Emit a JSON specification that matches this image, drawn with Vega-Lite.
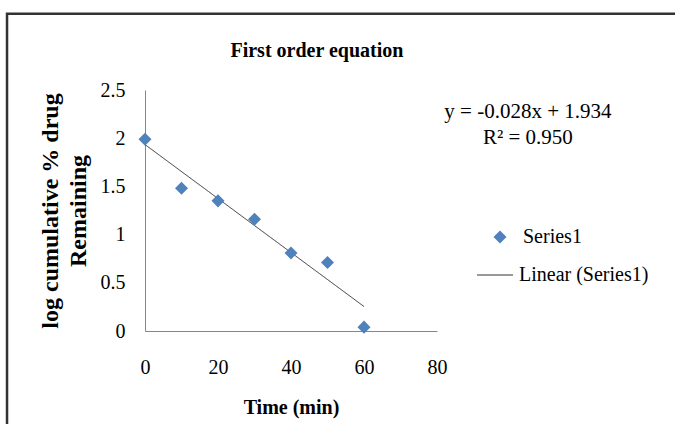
{
  "$schema": "https://vega.github.io/schema/vega-lite/v6.json",
  "autosize": {"type": "none"},
  "padding": {"left": 145, "top": 90, "right": 238, "bottom": 93},
  "width": 292,
  "height": 241,
  "background": "white",
  "config": {
    "view": {"stroke": null},
    "font": "Liberation Serif",
    "axis": {"domainColor": "#868686", "ticks": false, "grid": false, "labelFlush": false, "labelColor": "black", "labelFont": "Liberation Serif", "labelFontSize": 20, "titleFont": "Liberation Serif", "titleFontSize": 20, "titleFontWeight": "bold", "titleColor": "black"},
    "legend": {"labelFont": "Liberation Serif", "labelFontSize": 20, "labelColor": "black"}
  },
  "datasets": {
    "pts": [
      {"time": 0, "logr": 1.99, "series": "Series1"},
      {"time": 10, "logr": 1.48, "series": "Series1"},
      {"time": 20, "logr": 1.35, "series": "Series1"},
      {"time": 30, "logr": 1.16, "series": "Series1"},
      {"time": 40, "logr": 0.81, "series": "Series1"},
      {"time": 50, "logr": 0.71, "series": "Series1"},
      {"time": 60, "logr": 0.04, "series": "Series1"}
    ],
    "fit": [
      {"time": 0, "logr": 1.934, "series": "Linear (Series1)"},
      {"time": 60, "logr": 0.254, "series": "Linear (Series1)"}
    ]
  },
  "layer": [
    {
      "data": {"values": [{}]},
      "mark": {"type": "rect", "fill": null, "stroke": "#333333", "strokeWidth": 2.5},
      "encoding": {
        "x": {"datum": -37.8, "type": "quantitative", "scale": {"domain": [0, 80]}},
        "x2": {"datum": 160},
        "y": {"datum": 3.29, "type": "quantitative", "scale": {"domain": [0, 2.5]}},
        "y2": {"datum": -1.2}
      }
    },
    {
      "data": {"values": [{}]},
      "mark": {"type": "text", "font": "Liberation Serif", "fontSize": 20, "fontWeight": "bold", "color": "black", "align": "center", "baseline": "alphabetic"},
      "encoding": {
        "x": {"datum": 47.1, "type": "quantitative"},
        "y": {"datum": 2.842, "type": "quantitative"},
        "text": {"value": "First order equation"}
      }
    },
    {
      "data": {"name": "fit"},
      "mark": {"type": "line", "color": "#333333", "strokeWidth": 1},
      "encoding": {
        "x": {"field": "time", "type": "quantitative"},
        "y": {"field": "logr", "type": "quantitative"},
        "strokeDash": {"field": "series", "type": "nominal", "scale": {"range": [[1, 0]]},
          "legend": {"title": null, "orient": "none", "legendX": 331, "legendY": 166, "padding": 0, "symbolSize": 1300, "symbolStrokeWidth": 1, "symbolStrokeColor": "#333333", "labelOffset": 5}}
      }
    },
    {
      "data": {"name": "pts"},
      "mark": {"type": "point", "shape": "diamond", "filled": true, "size": 170, "opacity": 1},
      "encoding": {
        "x": {"field": "time", "type": "quantitative", "scale": {"domain": [0, 80], "nice": false}, "axis": {"title": "Time (min)", "values": [0, 20, 40, 60, 80], "labelPadding": 26, "titlePadding": 20}},
        "y": {"field": "logr", "type": "quantitative", "scale": {"domain": [0, 2.5], "nice": false}, "axis": {"title": ["log cumulative % drug", "Remaining"], "values": [0, 0.5, 1, 1.5, 2, 2.5], "format": ".1~f", "labelPadding": 20, "titlePadding": 10, "titleFontSize": 24, "titleLineHeight": 28}},
        "color": {"field": "series", "type": "nominal", "scale": {"range": ["#4F81BD"]},
          "legend": {"title": null, "orient": "none", "legendX": 345, "legendY": 137, "padding": 0, "symbolSize": 170, "symbolType": "diamond", "labelOffset": 13}}
      }
    },
    {
      "data": {"values": [{}]},
      "mark": {"type": "text", "font": "Liberation Serif", "fontSize": 21, "color": "black", "align": "center", "baseline": "middle"},
      "encoding": {
        "x": {"datum": 104.9, "type": "quantitative"},
        "y": {"datum": 2.27, "type": "quantitative"},
        "text": {"value": "y = -0.028x + 1.934"}
      }
    },
    {
      "data": {"values": [{}]},
      "mark": {"type": "text", "font": "Liberation Serif", "fontSize": 21, "color": "black", "align": "center", "baseline": "middle"},
      "encoding": {
        "x": {"datum": 104.9, "type": "quantitative"},
        "y": {"datum": 2.0, "type": "quantitative"},
        "text": {"value": "R² = 0.950"}
      }
    }
  ]
}
